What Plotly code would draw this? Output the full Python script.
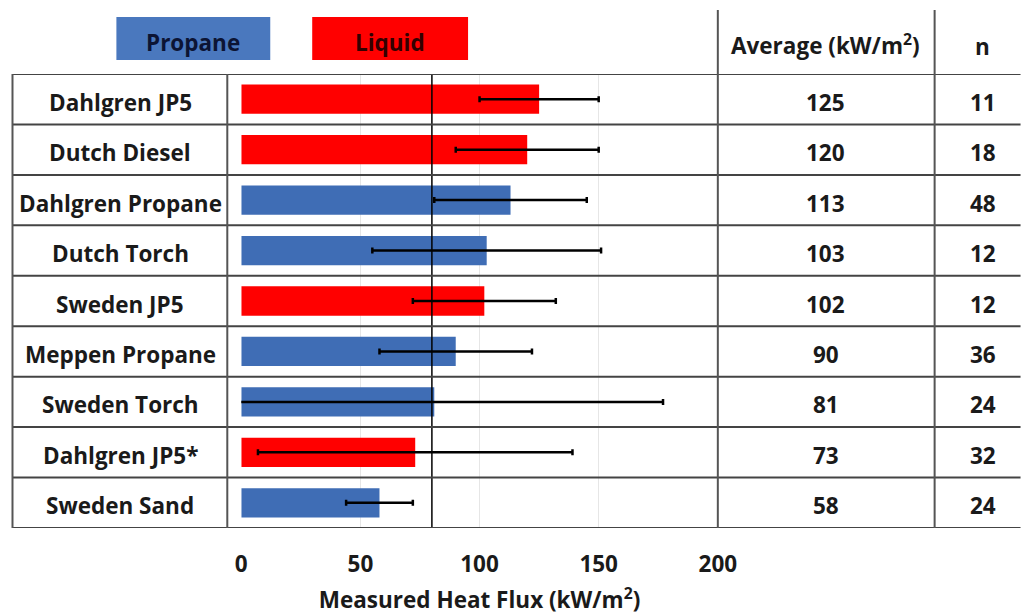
import plotly.graph_objects as go

W, H = 1045, 615
SX, OX = 0.977, 5.5  # observed horizontal mapping compensation

categories = ["Dahlgren JP5", "Dutch Diesel", "Dahlgren Propane", "Dutch Torch", "Sweden JP5",
              "Meppen Propane", "Sweden Torch", "Dahlgren JP5*", "Sweden Sand"]
fuel_type = ["Liquid", "Liquid", "Propane", "Propane", "Liquid", "Propane", "Propane", "Liquid", "Propane"]
average = [125, 120, 113, 103, 102, 90, 81, 73, 58]
error = [25, 30, 32, 48, 30, 32, 96, 66, 14]
n_tests = [11, 18, 48, 12, 12, 36, 24, 32, 24]
reference_line = 80
x_ticks = [0, 50, 100, 150, 200]

type_colors = {"Propane": "#3F6DB5", "Liquid": "#FF0000"}
legend_colors = {"Propane": "#4A78BE", "Liquid": "#FF0000"}
FONT = "Open Sans"
TXT = "#1a1a1a"
FS = 22.5


def px(x):
    return ((x - OX) / SX) / W


def py(y):
    return 1 - y / H


fig = go.Figure()
fig.add_trace(go.Bar(
    x=average, y=categories, orientation="h",
    marker=dict(color=[type_colors[t] for t in fuel_type], line=dict(width=0)),
    width=0.58,
    error_x=dict(type="data", array=error, visible=True, color="black", thickness=2.5, width=3),
    showlegend=False, hoverinfo="x+y",
))

nrows = len(categories)
shapes = []
shapes.append(dict(type="line", xref="x", yref="y", x0=reference_line, x1=reference_line,
                   y0=-0.5, y1=nrows - 0.5, line=dict(color="black", width=1.5), layer="above"))
for i in range(nrows + 1):
    shapes.append(dict(type="line", xref="paper", yref="y", x0=px(12), x1=px(1021),
                       y0=i - 0.5, y1=i - 0.5, line=dict(color="#444444", width=2), layer="above"))
for xv in [12, 227]:
    shapes.append(dict(type="line", xref="paper", yref="y", x0=px(xv), x1=px(xv),
                       y0=-0.5, y1=nrows - 0.5, line=dict(color="#555555", width=2), layer="above"))
for xv in [718, 935]:
    shapes.append(dict(type="line", xref="paper", yref="paper", x0=px(xv), x1=px(xv),
                       y0=py(10), y1=py(528), line=dict(color="#555555", width=2), layer="above"))

legend_boxes = [("Propane", 116, 270, "#0c1434"), ("Liquid", 312, 468, "#330000")]
annotations = []
for name, x0, x1, tc in legend_boxes:
    shapes.append(dict(type="rect", xref="paper", yref="paper", x0=px(x0), x1=px(x1),
                       y0=py(60), y1=py(17), fillcolor=legend_colors[name], line=dict(width=0)))
    annotations.append(dict(x=px((x0 + x1) / 2), y=py(42), xref="paper", yref="paper",
                            xanchor="center", yanchor="middle",
                            text=f"<b>{name}</b>", showarrow=False,
                            font=dict(family=FONT, size=FS, color=tc)))


def ann(x, y, text, yref="paper", yshift=0):
    annotations.append(dict(x=px(x), y=y, xref="paper", yref=yref, xanchor="center", yanchor="middle",
                            text=text, showarrow=False, yshift=yshift,
                            font=dict(family=FONT, size=FS, color=TXT)))


ann(826, py(45), "<b>Average (kW/m<sup>2</sup>)</b>")
ann(983, py(46), "<b>n</b>")
for i, c in enumerate(categories):
    ann(120, i, f"<b>{c}</b>", "y", -3)
    ann(826, i, f"<b>{average[i]}</b>", "y", -3)
    ann(983, i, f"<b>{n_tests[i]}</b>", "y", -3)

fig.update_layout(
    width=W, height=H,
    margin=dict(l=0, r=0, t=0, b=0),
    paper_bgcolor="white", plot_bgcolor="white",
    shapes=shapes, annotations=annotations,
    xaxis=dict(domain=[px(241), px(718)], range=[0, 200], tickvals=x_ticks,
               ticktext=[f"<b>{v}</b>" for v in x_ticks],
               showgrid=True, gridcolor="#e6e6e6", gridwidth=1, zeroline=False, showline=False,
               ticks="", ticklabelstandoff=20,
               tickfont=dict(family=FONT, size=FS, color=TXT),
               title=dict(text="<b>Measured Heat Flux (kW/m<sup>2</sup>)</b>", standoff=15,
                          font=dict(family=FONT, size=FS, color=TXT))),
    yaxis=dict(domain=[py(528), py(74)], range=[nrows - 0.5, -0.5],
               showticklabels=False, showgrid=False, zeroline=False, showline=False, ticks=""),
)

fig.write_html("out.html", config={"displayModeBar": False},
               post_script="document.body.style.margin='0';document.body.style.overflow='hidden';")
